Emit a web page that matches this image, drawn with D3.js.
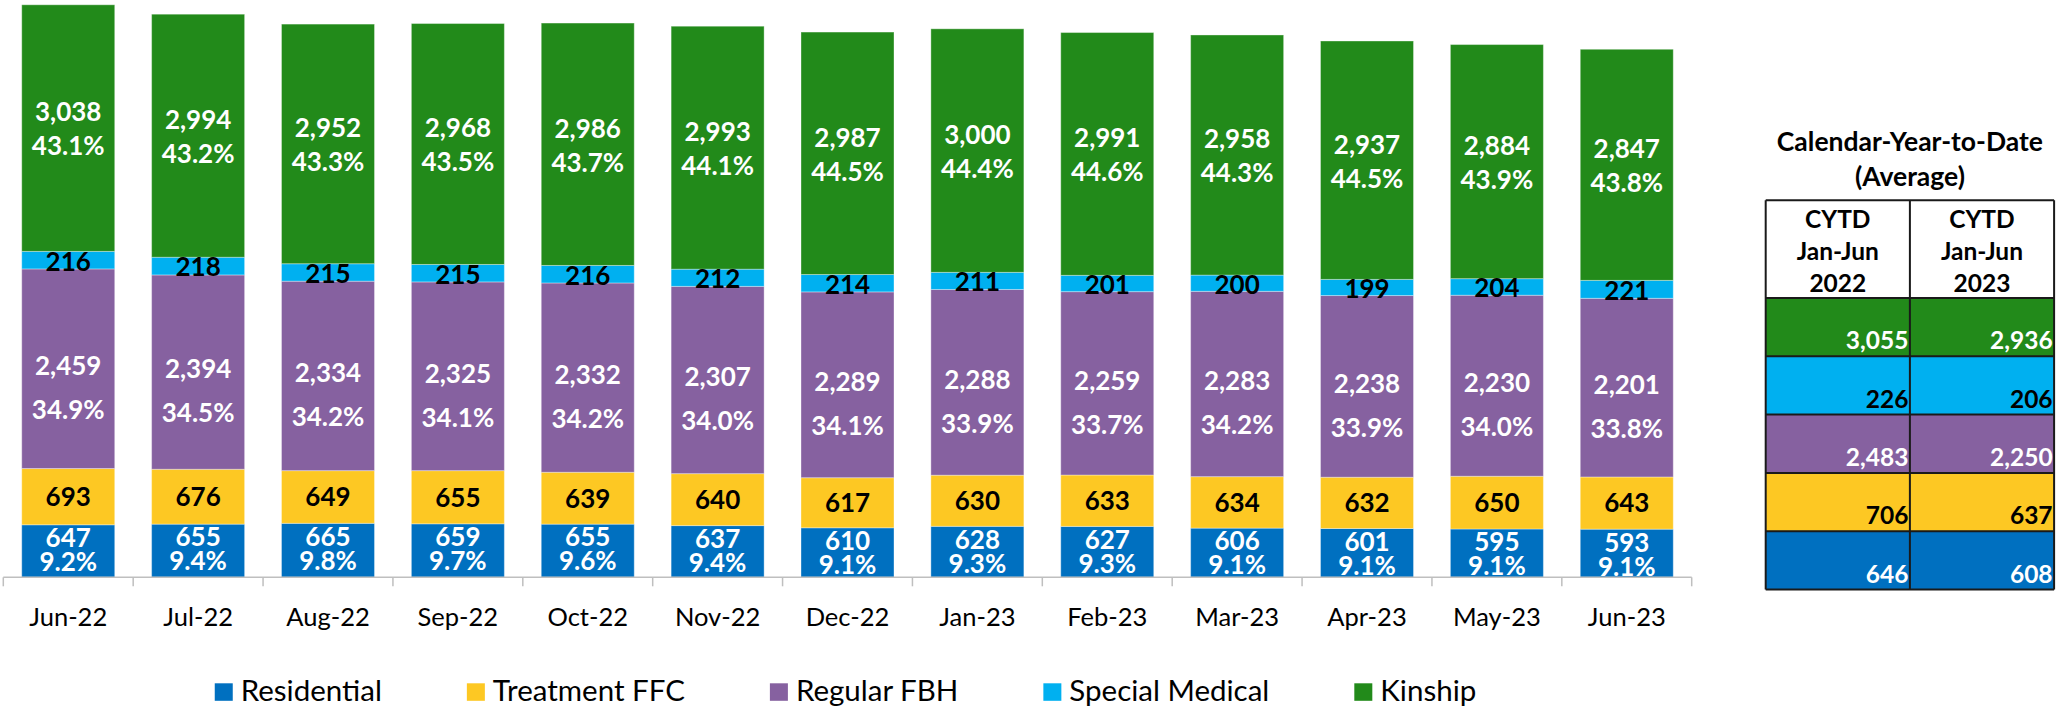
<!DOCTYPE html>
<html>
<head>
<meta charset="utf-8">
<script src="https://cdn.jsdelivr.net/npm/d3@7"></script>
<style>
  body { margin: 0; background: #fff; }
  text { font-family: Lato, "Open Sans", sans-serif; }
</style>
</head>
<body>
<div id="chart"></div>
<script>
// monthly placements, Jun-22 .. Jun-23
const months = ["Jun-22", "Jul-22", "Aug-22", "Sep-22", "Oct-22", "Nov-22", "Dec-22",
  "Jan-23", "Feb-23", "Mar-23", "Apr-23", "May-23", "Jun-23"];
const residential = [647, 655, 665, 659, 655, 637, 610, 628, 627, 606, 601, 595, 593];
const treatment = [693, 676, 649, 655, 639, 640, 617, 630, 633, 634, 632, 650, 643];
const regular = [2459, 2394, 2334, 2325, 2332, 2307, 2289, 2288, 2259, 2283, 2238, 2230, 2201];
const special = [216, 218, 215, 215, 216, 212, 214, 211, 201, 200, 199, 204, 221];
const kinship = [3038, 2994, 2952, 2968, 2986, 2993, 2987, 3000, 2991, 2958, 2937, 2884, 2847];
const residentialPct = [9.2, 9.4, 9.8, 9.7, 9.6, 9.4, 9.1, 9.3, 9.3, 9.1, 9.1, 9.1, 9.1];
const regularPct = [34.9, 34.5, 34.2, 34.1, 34.2, 34.0, 34.1, 33.9, 33.7, 34.2, 33.9, 34.0, 33.8];
const kinshipPct = [43.1, 43.2, 43.3, 43.5, 43.7, 44.1, 44.5, 44.4, 44.6, 44.3, 44.5, 43.9, 43.8];

const seriesNames = ["Residential", "Treatment FFC", "Regular FBH", "Special Medical", "Kinship"];
const seriesKeys = ["residential", "treatment", "regular", "special", "kinship"];
const colors = ["#0070c0", "#fdc823", "#8661a0", "#00b0f0", "#228a1a"];

// calendar-year-to-date table (rows top to bottom: Kinship .. Residential)
const cytdTitle = ["Calendar-Year-to-Date", "(Average)"];
const cytdHeaders = [["CYTD", "Jan-Jun", "2022"], ["CYTD", "Jan-Jun", "2023"]];
const cytd2022 = [3055, 226, 2483, 706, 646];
const cytd2023 = [2936, 206, 2250, 637, 608];

const width = 2057;
const height = 709;
const axisY = 577.3;

const svg = d3.select("#chart").append("svg")
  .attr("width", width)
  .attr("height", height);

const rows = months.map((m, i) => ({
  month: m,
  residential: residential[i],
  treatment: treatment[i],
  regular: regular[i],
  special: special[i],
  kinship: kinship[i]
}));

const stacked = d3.stack().keys(seriesKeys)(rows);

const x = d3.scaleBand()
  .domain(months)
  .range([3.3, 1691.7])
  .paddingInner(0.284)
  .paddingOuter(0.142);

const y = d3.scaleLinear()
  .domain([0, 7112])
  .range([axisY, 0]);

const fmt = d3.format(",");

// bars
const layers = svg.append("g").selectAll("g")
  .data(stacked)
  .enter().append("g")
  .attr("fill", (d, i) => colors[i]);

layers.selectAll("rect")
  .data(d => d)
  .enter().append("rect")
  .attr("x", d => x(d.data.month))
  .attr("y", d => y(d[1]))
  .attr("width", x.bandwidth())
  .attr("height", d => y(d[0]) - y(d[1]))
  .attr("stroke", "#ffffff")
  .attr("stroke-opacity", 0.35)
  .attr("stroke-width", 1);

// axis line and boundary ticks
svg.append("line")
  .attr("x1", x.range()[0]).attr("x2", x.range()[1])
  .attr("y1", axisY).attr("y2", axisY)
  .attr("stroke", "#bfbfbf").attr("stroke-width", 1.5);

svg.append("g").selectAll("line")
  .data(d3.range(months.length + 1))
  .enter().append("line")
  .attr("x1", i => x.range()[0] + i * x.step())
  .attr("x2", i => x.range()[0] + i * x.step())
  .attr("y1", axisY).attr("y2", axisY + 9)
  .attr("stroke", "#bfbfbf").attr("stroke-width", 1.5);

const xAxis = d3.axisBottom(x).tickSize(0).tickPadding(30.7);
const gx = svg.append("g")
  .attr("transform", "translate(0," + axisY + ")")
  .call(xAxis);
gx.select(".domain").remove();
gx.selectAll("text")
  .attr("font-family", "Lato, 'Open Sans', sans-serif")
  .style("font-size", "25.5px")
  .attr("fill", "#000");

// data labels
const labels = svg.append("g")
  .attr("font-weight", "bold")
  .style("font-size", "26px")
  .attr("text-anchor", "middle");

function cx(i) { return x(months[i]) + x.bandwidth() / 2; }

function addLabel(xPos, yPos, txt, fill) {
  labels.append("text")
    .attr("x", xPos)
    .attr("y", yPos)
    .attr("dy", "0.36em")
    .attr("fill", fill)
    .text(txt);
}

months.forEach((m, i) => {
  const s = stacked.map(layer => layer[i]);
  // Residential: value near top, percent below (they touch, as in Excel)
  addLabel(cx(i), y(s[0][1]) + 13, fmt(residential[i]), "#fff");
  addLabel(cx(i), y(s[0][1]) + 37, residentialPct[i].toFixed(1) + "%", "#fff");
  // Treatment FFC
  addLabel(cx(i), (y(s[1][0]) + y(s[1][1])) / 2, fmt(treatment[i]), "#000");
  // Regular FBH
  const midR = (y(s[2][0]) + y(s[2][1])) / 2;
  addLabel(cx(i), midR - 3, fmt(regular[i]), "#fff");
  addLabel(cx(i), midR + 41, regularPct[i].toFixed(1) + "%", "#fff");
  // Special Medical
  addLabel(cx(i), (y(s[3][0]) + y(s[3][1])) / 2 + 1, fmt(special[i]), "#000");
  // Kinship
  const midK = (y(s[4][0]) + y(s[4][1])) / 2;
  addLabel(cx(i), midK - 16, fmt(kinship[i]), "#fff");
  addLabel(cx(i), midK + 18, kinshipPct[i].toFixed(1) + "%", "#fff");
});

// legend
const legend = svg.append("g");
const legendItems = legend.selectAll("g")
  .data(seriesNames)
  .enter().append("g");
legendItems.append("rect")
  .attr("width", 18).attr("height", 17.5)
  .attr("y", 683.3)
  .attr("fill", (d, i) => colors[i]);
legendItems.append("text")
  .attr("x", 26)
  .attr("y", 700.7)
  .style("font-size", "29.5px")
  .attr("fill", "#000")
  .text(d => d);

let widths = [];
legendItems.each(function () {
  widths.push(26 + d3.select(this).select("text").node().getComputedTextLength());
});
const gap = 85;
const total = d3.sum(widths) + gap * (widths.length - 1);
let lx = 845.5 - total / 2;
legendItems.attr("transform", (d, i) => {
  const t = "translate(" + lx + ",0)";
  lx += widths[i] + gap;
  return t;
});

// CYTD table
const tLeft = 1765.7;
const colW = 144.2;
const headTop = 200.3;
const headBottom = 298;
const rowH = 58.3;
const rowColors = [colors[4], colors[3], colors[2], colors[1], colors[0]];
const rowText = ["#fff", "#000", "#fff", "#000", "#fff"];

const table = svg.append("g");
const tableCx = tLeft + colW;

table.selectAll("text.title")
  .data(cytdTitle)
  .enter().append("text")
  .attr("class", "title")
  .attr("x", tableCx)
  .attr("y", (d, i) => 151 + i * 35)
  .attr("text-anchor", "middle")
  .attr("font-weight", "bold")
  .style("font-size", "26.5px")
  .attr("fill", "#000")
  .text(d => d);

cytdHeaders.forEach((lines, c) => {
  table.append("rect")
    .attr("x", tLeft + c * colW).attr("y", headTop)
    .attr("width", colW).attr("height", headBottom - headTop)
    .attr("fill", "#fff");
  lines.forEach((ln, k) => {
    table.append("text")
      .attr("x", tLeft + c * colW + colW / 2)
      .attr("y", 227.5 + k * 32.3)
      .attr("text-anchor", "middle")
      .attr("font-weight", "bold")
      .style("font-size", "24.5px")
      .attr("fill", "#000")
      .text(ln);
  });
});

[cytd2022, cytd2023].forEach((vals, c) => {
  vals.forEach((v, r) => {
    const top = headBottom + r * rowH;
    table.append("rect")
      .attr("x", tLeft + c * colW).attr("y", top)
      .attr("width", colW).attr("height", rowH)
      .attr("fill", rowColors[r]);
    table.append("text")
      .attr("x", tLeft + (c + 1) * colW - 1.5)
      .attr("y", top + rowH - 7)
      .attr("text-anchor", "end")
      .attr("font-weight", "bold")
      .style("font-size", "24.5px")
      .attr("fill", rowText[r])
      .text(fmt(v));
  });
});

// grid lines of the table
const tBottom = headBottom + rowH * cytd2022.length;
d3.range(cytd2022.length + 2).forEach(k => {
  const yy = k === 0 ? headTop : headBottom + (k - 1) * rowH;
  table.append("line")
    .attr("x1", tLeft).attr("x2", tLeft + 2 * colW)
    .attr("y1", yy).attr("y2", yy)
    .attr("stroke", "#1a1a1a").attr("stroke-width", 2);
});
d3.range(3).forEach(c => {
  table.append("line")
    .attr("x1", tLeft + c * colW).attr("x2", tLeft + c * colW)
    .attr("y1", headTop).attr("y2", tBottom)
    .attr("stroke", "#1a1a1a").attr("stroke-width", 2);
});
</script>
</body>
</html>
